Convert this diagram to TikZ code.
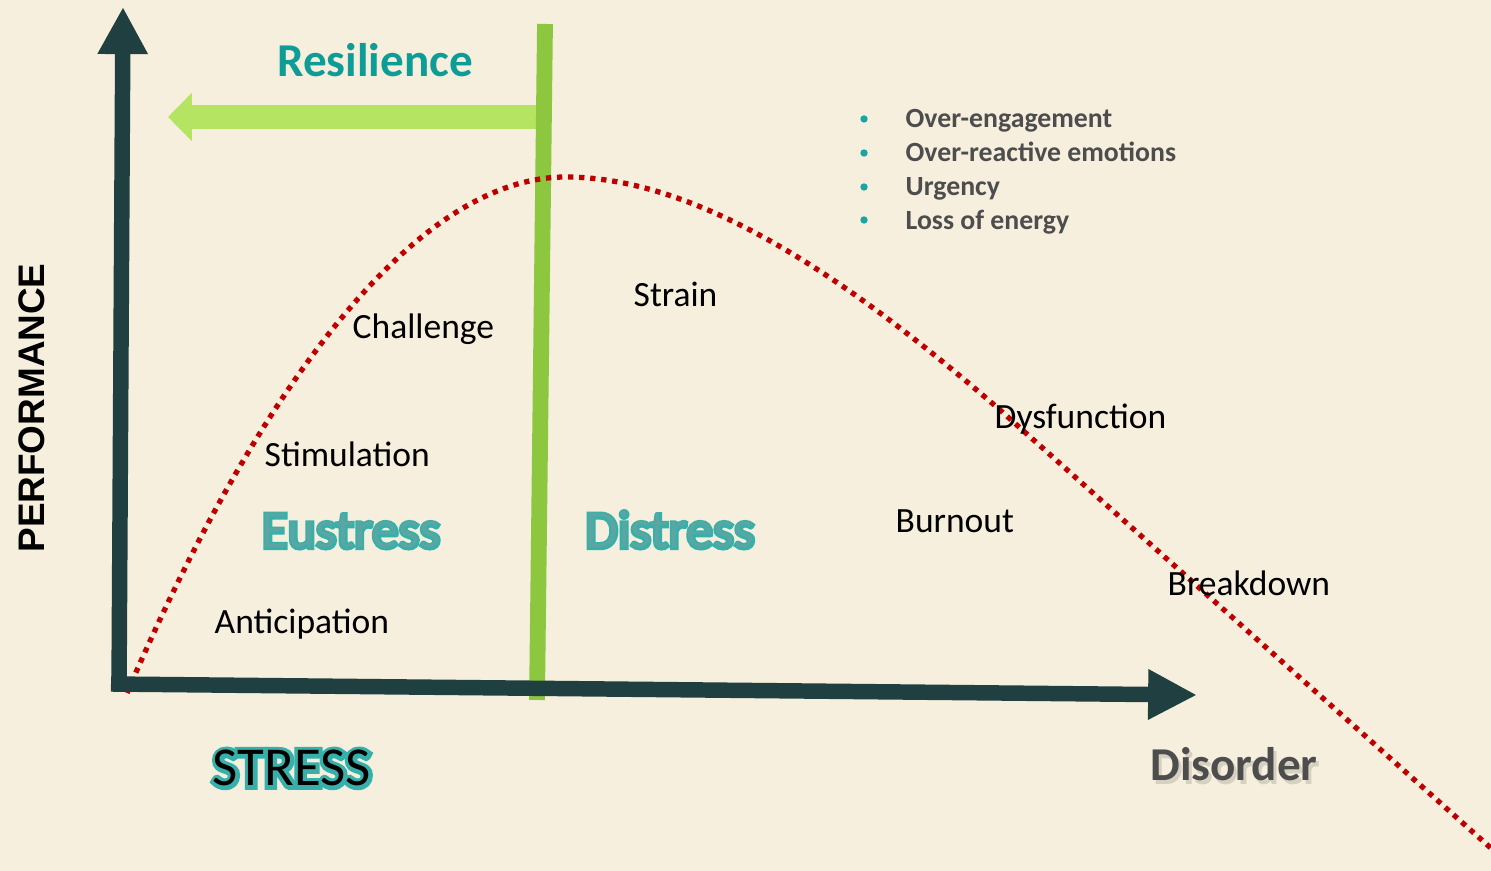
\documentclass[tikz,border=0pt]{standalone}
\usepackage{fontspec}
\setmainfont{Carlito}
\newfontfamily\arialfont{Liberation Sans}
\newfontfamily\glowfont[FakeBold=8]{Carlito}
\newfontfamily\thickglowfont[FakeBold=14]{Carlito}
\usetikzlibrary{arrows.meta, positioning}
\definecolor{cream}{HTML}{F6EFDE}
\definecolor{axisdark}{HTML}{1F3F40}
\definecolor{splitgreen}{HTML}{8DC63F}
\definecolor{resgreen}{HTML}{B5E462}
\definecolor{curvered}{HTML}{C00000}
\definecolor{resteal}{HTML}{0E9C96}
\definecolor{glowteal}{HTML}{35B0AA}
\definecolor{coreteal}{HTML}{5AA6A2}
\definecolor{slate}{HTML}{4D4D4D}
\definecolor{dotteal}{HTML}{1AA6A0}

\tikzset{
  axisline/.style={draw=axisdark, line width=4.4pt},
  word/.style={font=\fontsize{10.1}{12}\selectfont, inner sep=0pt, anchor=base west},
  symptom/.style={font=\bfseries\fontsize{7.9}{9}\selectfont, text=slate, inner sep=0pt, anchor=base west},
  zone/.style={font=\fontsize{15.2}{18}\selectfont, inner sep=0pt, anchor=base},
  zoneglow/.style={font=\glowfont\fontsize{15.2}{18}\selectfont, text=glowteal, inner sep=0pt, anchor=base},
  axistitle/.style={font=\fontsize{15.6}{18}\selectfont, inner sep=0pt, anchor=base},
  axisglow/.style={font=\thickglowfont\fontsize{15.6}{18}\selectfont, text=glowteal, inner sep=0pt, anchor=base},
}

\begin{document}
\begin{tikzpicture}[x=0.01cm, y=-0.01cm]
\fill[cream] (0,0) rectangle (1491,871);
\useasboundingbox (0,0) rectangle (1491,871);

% key points of the axes and the split line
\coordinate (origin) at (119,690);
\coordinate (ytip) at (123,7);
\coordinate (xstart) at (111,684);
\coordinate (xtip) at (1197,695);
\coordinate (splittop) at (545,24);
\coordinate (splitbot) at (537,700);
\coordinate (resstart) at (539,117);
\coordinate (restip) at (168,117);

% resilience arrow and split line
\draw[resgreen, line width=6.8pt, -{Triangle[length=6.8pt,width=13.4pt]}] (resstart) -- (restip);
\draw[splitgreen, line width=4.5pt] (splittop) -- (splitbot);

% performance curve
\draw[curvered, line width=1.5pt, dash pattern=on 1.5pt off 1.65pt]
  (127,693) .. controls (240,430) and (400,178) .. (565,177)
  .. controls (700,177) and (850,280) .. (1000,410) -- (1493,850);

% axes
\draw[axisline, -{Triangle[length=13.9pt,width=13.4pt]}] (xstart) -- (xtip);
\draw[axisline, -{Triangle[length=13.4pt,width=13.4pt]}] (origin) -- (ytip);

\node[font=\arialfont\bfseries\fontsize{10.5}{12}\selectfont, rotate=90, inner sep=0pt] (performance) at (32,408) {PERFORMANCE};

\node[font=\bfseries\fontsize{13.4}{16}\selectfont, text=resteal, inner sep=0pt, anchor=base] (resilience) at (375,77) {Resilience};

% symptoms list
\node[symptom] (over) at (905,128) {Over-engagement};
\node[symptom] (reactive) at (905,162) {Over-reactive emotions};
\node[symptom] (urgency) at (905,196) {Urgency};
\node[symptom] (energy) at (905,230) {Loss of energy};
\foreach \yy in {119,153,187,220}
  \fill[dotteal] (864,\yy) circle (3.7);

% stages along the curve
\node[word] (challenge) at (352,339) {Challenge};
\node[word] (stimulation) at (264,467) {Stimulation};
\node[word] (anticipation) at (214,634) {Anticipation};
\node[word] (strain) at (633,307) {Strain};
\node[word] (dysfunction) at (994,429) {Dysfunction};
\node[word] (burnout) at (895,533) {Burnout};
\node[word] (breakdown) at (1167,596) {Breakdown};

% outlined zone titles
\node[zoneglow] at (351,548) {Eustress};
\node[zoneglow] at (670,548) {Distress};
\node[axisglow] at (292,786) {STRESS};
\node[zone, text=coreteal] (eustress) at (351,548) {Eustress};
\node[zone, text=coreteal] (distress) at (670,548) {Distress};
\node[axistitle, text=black] (stress) at (292,786) {STRESS};

% disorder with a soft shadow
\node[font=\bfseries\fontsize{13.4}{16}\selectfont, text=black, opacity=0.13, inner sep=0pt, anchor=base] at (1237,785) {Disorder};
\node[font=\bfseries\fontsize{13.4}{16}\selectfont, text=slate, inner sep=0pt, anchor=base] (disorder) at (1234,781) {Disorder};
\end{tikzpicture}
\end{document}
